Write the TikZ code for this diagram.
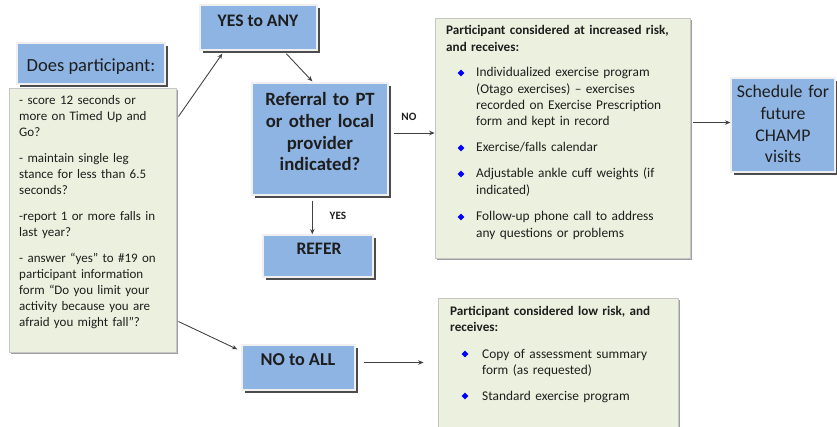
\documentclass[tikz,border=0pt]{standalone}
\usepackage{fontspec}
\setmainfont{Carlito}
\usetikzlibrary{arrows.meta,fit,shadows,shapes.geometric,calc}
\definecolor{boxblue}{HTML}{8DB4E2}
\definecolor{boxgreen}{HTML}{EBF1DE}
\definecolor{txt}{HTML}{1E1E1E}
\definecolor{linec}{HTML}{404040}
\begin{document}
\begin{tikzpicture}[x=0.03cm,y=-0.03cm,
  bluebox/.style={draw=white!88!gray,line width=1.2pt,fill=boxblue,inner sep=0pt,
    general shadow={fill=black!70,shadow xshift=2.2pt,shadow yshift=-2.2pt}},
  greenbox/.style={draw=gray!45,line width=0.8pt,fill=boxgreen,inner sep=0pt,
    general shadow={fill=gray!75,shadow xshift=1.8pt,shadow yshift=-1.8pt}},
  txtnode/.style={inner sep=0pt,text=txt},
  bigtxt/.style={txtnode,align=center},
  listtxt/.style={txtnode,anchor=base west,align=left,text width=8cm,
    font=\fontsize{11.4pt}{13.9pt}\selectfont},
  headtxt/.style={listtxt,font=\fontsize{11.2pt}{13.9pt}\selectfont\bfseries},
  tag/.style={txtnode,font=\fontsize{9.6pt}{11pt}\selectfont\bfseries},
  bullet/.style={diamond,fill=blue,inner sep=0pt,minimum size=5.8pt},
  conn/.style={draw=linec,line width=0.75pt,-{Stealth[length=4.5pt,width=3.8pt]}}]
\useasboundingbox (0,0) rectangle (837,427);

% ---- boxes ----
\node[greenbox,fit={(9,88) (176,352)}] (lft) {};
\node[bluebox,fit={(17,43) (165,84)}] (does) {};
\node[bluebox,fit={(200,5) (317,50)}] (yes) {};
\node[bluebox,fit={(252,83) (388,195)}] (ref) {};
\node[bluebox,fit={(263,235) (373,277)}] (refer) {};
\node[bluebox,fit={(242,345) (355,390)}] (noall) {};
\node[greenbox,fit={(435,18) (690,258)}] (high) {};
\node[greenbox,fit={(438,298) (678,440)}] (low) {};
\node[bluebox,fit={(731,78) (835,172)}] (sched) {};

% ---- box titles ----
\node[bigtxt,anchor=base,font=\fontsize{15.8pt}{18pt}\selectfont] (doest) at (91,72) {Does participant:};
\node[bigtxt,anchor=base,font=\fontsize{15pt}{18pt}\selectfont\bfseries] (yest) at (258,27) {YES to ANY};
\node[bigtxt,anchor=base,text width=4cm,font=\fontsize{16pt}{18.4pt}\selectfont\bfseries] (reft) at (320,106)
  {Referral to PT\\or other local\\provider\\indicated?};
\node[bigtxt,anchor=base,font=\fontsize{15pt}{18pt}\selectfont\bfseries] (refert) at (319,255) {REFER};
\node[bigtxt,anchor=base,font=\fontsize{15.5pt}{18pt}\selectfont\bfseries] (noallt) at (298,365) {NO to ALL};
\node[bigtxt,anchor=base,text width=3.2cm,font=\fontsize{15.2pt}{18.4pt}\selectfont] (schedt) at (783,98)
  {Schedule for\\future\\CHAMP\\visits};

% ---- question list ----
\node[txtnode,anchor=base west,align=left,text width=6cm,
  font=\fontsize{11.1pt}{13.6pt}\selectfont] (qlist) at (19,105)
  {- score 12 seconds or\\more on Timed Up and\\Go?\\[8.6pt]
   - maintain single leg\\stance for less than 6.5\\seconds?\\[8.6pt]
   -report 1 or more falls in\\last year?\\[8.6pt]
   - answer “yes” to \#19 on\\participant information\\form “Do you limit your\\activity because you are\\afraid you might fall”?};

% ---- increased risk ----
\node[headtxt] (hhead) at (446,35)
  {Participant considered at increased risk,\\and receives:};
\node[bullet] (hb1) at (461,73) {};
\node[listtxt] (hi1) at (476,77)
  {Individualized exercise program\\(Otago exercises) – exercises\\recorded on Exercise Prescription\\form and kept in record};
\node[bullet] (hb2) at (461,148) {};
\node[listtxt] (hi2) at (476,152) {Exercise/falls calendar};
\node[bullet] (hb3) at (461,174) {};
\node[listtxt] (hi3) at (476,178) {Adjustable ankle cuff weights (if\\indicated)};
\node[bullet] (hb4) at (461,217) {};
\node[listtxt] (hi4) at (476,221) {Follow-up phone call to address\\any questions or problems};

% ---- low risk ----
\node[headtxt] (lhead) at (450,315)
  {Participant considered low risk, and\\receives:};
\node[bullet] (lb1) at (465,354) {};
\node[listtxt] (li1) at (482,358) {Copy of assessment summary\\form (as requested)};
\node[bullet] (lb2) at (465,396) {};
\node[listtxt] (li2) at (482,400) {Standard exercise program};

% ---- connectors ----
\coordinate (a1) at ($(lft.north east)+(2,29)$);
\coordinate (a2) at ($(yes.south west)+(23,3)$);
\draw[conn] (a1) -- (a2);
\coordinate (b1) at ($(yes.south west)+(87,3)$);
\coordinate (b2) at ($(ref.north west)+(61,-1)$);
\draw[conn] (b1) -- (b2);
\coordinate (c1) at ($(ref.east)+(5,-6)$);
\draw[conn] (c1) -- (c1 -| high.west);
\node[tag] (nolab) at (409,117) {NO};
\coordinate (d1) at ($(ref.south west)+(61,5)$);
\draw[conn] (d1) -- (d1 |- refer.north);
\node[tag] (yeslab) at (338,216) {YES};
\coordinate (e1) at ($(high.north east)+(3,105)$);
\draw[conn] (e1) -- (e1 -| sched.west);
\coordinate (f1) at ($(lft.north east)+(2,234)$);
\coordinate (f2) at ($(noall.north west)+(-4,5)$);
\draw[conn] (f1) -- (f2);
\coordinate (g1) at ($(noall.east)+(8,-5)$);
\draw[conn] (g1) -- ($(g1 -| low.west)+(-14,0)$);
\end{tikzpicture}
\end{document}
